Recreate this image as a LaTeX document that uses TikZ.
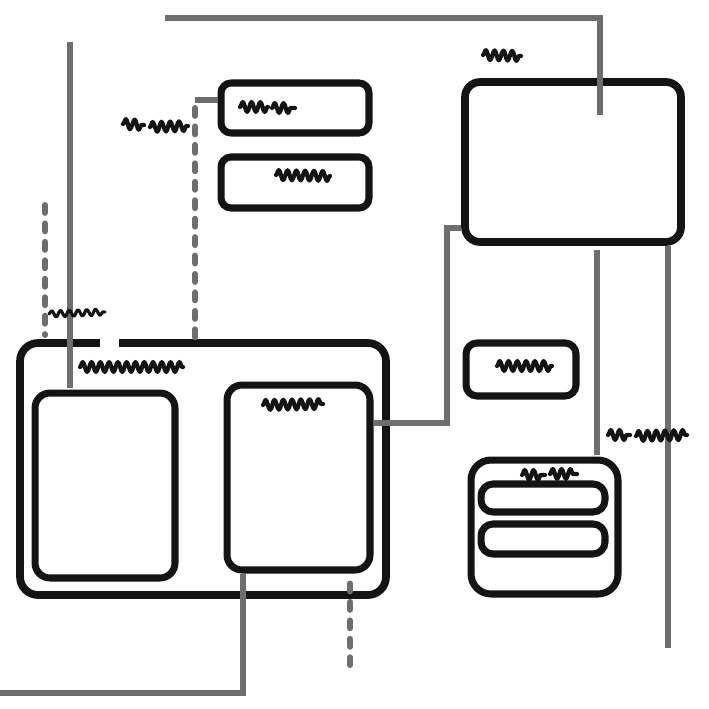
\documentclass[tikz,border=0pt]{standalone}
\usetikzlibrary{decorations.pathmorphing}

\definecolor{inkgray}{HTML}{6E6E6E}
\definecolor{inkblack}{HTML}{141414}

\tikzset{
  box/.style={draw=inkblack, line width=4pt, fill=white, inner sep=0pt, rounded corners=0.3cm},
  wire/.style={draw=inkgray, line width=3.2pt},
  dashwire/.style={draw=inkgray, line width=3.4pt, line cap=round, dash pattern=on 4.5pt off 6pt},
  scrib/.style={draw=inkblack, line width=2.4pt, line cap=round, line join=round,
    decorate, decoration={snake, segment length=5pt, amplitude=2.8pt}}
}

\begin{document}
\begin{tikzpicture}[x=0.02cm, y=-0.02cm]
% Canvas in pixels, y pointing down
\fill[white] (0,0) rectangle (709,709);
\useasboundingbox (0,0) rectangle (709,709);

% Boxes
\node[box, line width=4.4pt, minimum width=7.32cm, minimum height=5.04cm, rounded corners=0.36cm] (outer) at (203,469) {};
\fill[white] (100,336) rectangle (119,350);
\node[box, minimum width=2.8cm, minimum height=3.7cm] (left) at (105,485.5) {};
\node[box, minimum width=2.86cm, minimum height=3.7cm] (right) at (298.5,477.5) {};
\node[box, minimum width=2.96cm, minimum height=1.0cm, rounded corners=0.2cm] (first) at (295,108) {};
\node[box, minimum width=2.96cm, minimum height=1.02cm, rounded corners=0.2cm] (second) at (295,182.5) {};
\node[box, line width=4.4pt, minimum width=4.32cm, minimum height=3.2cm] (screen) at (573,162) {};
\node[box, minimum width=2.2cm, minimum height=1.06cm, rounded corners=0.22cm] (small) at (521,369.5) {};
\node[box, minimum width=2.94cm, minimum height=2.68cm, rounded corners=0.4cm] (group) at (544.5,527) {};
\node[box, minimum width=2.48cm, minimum height=0.56cm, rounded corners=0.24cm] (barA) at (543,498) {};
\node[box, minimum width=2.48cm, minimum height=0.6cm, rounded corners=0.24cm] (barB) at (543,539) {};

% Free ends
\coordinate (topstart) at (165,18);
\coordinate (topend) at (600,115);
\coordinate (poleA) at (70,42);
\coordinate (poleB) at (70,388);
\coordinate (dashA) at (45,205);
\coordinate (dashB) at (45,335);
\coordinate (bendA) at (195,100);
\coordinate (riseA) at (597,250);
\coordinate (riseB) at (597,455);
\coordinate (longB) at (668,648);
\coordinate (floor) at (0,693);
\coordinate (dropB) at (350,665);

% Connectors
\draw[wire] (topstart) -| (topend);
\draw[wire] (poleA) -- (poleB);
\draw[dashwire] (dashA) -- (dashB);
\draw[wire] (first.west |- bendA) -- (bendA);
\draw[dashwire] (bendA) ++(0,8) -- (outer.north -| bendA);
\draw[wire] (right.east |- 0,423) -| (447,228) -- (screen.west |- 0,228);
\draw[wire] (riseA) -- (riseB);
\draw[wire] (screen.south -| 668,0) -- (longB);
\draw[wire] (right.south -| 243,0) |- (floor);
\draw[dashwire] (right.south -| 350,0) ++(0,10) -- (dropB);

% Scribbled labels
\draw[scrib] (240,107) -- (268,107);
\draw[scrib] (272,108) -- (295,108);
\draw[scrib] (276,175) -- (330,176);
\draw[scrib] (123,124) -- (144,125);
\draw[scrib] (150,127) -- (188,126);
\draw[scrib] (483,55) -- (521,56);
\draw[scrib, line width=1.8pt, decoration={amplitude=1.8pt}] (49,314) -- (105,312);
\draw[scrib] (80,367) -- (183,367);
\draw[scrib] (263,405) -- (323,404);
\draw[scrib] (497,366) -- (552,366);
\draw[scrib] (608,435) -- (630,435);
\draw[scrib] (636,436) -- (687,435);
\draw[scrib] (522,475) -- (545,475);
\draw[scrib] (550,474) -- (577,474);
\end{tikzpicture}
\end{document}
